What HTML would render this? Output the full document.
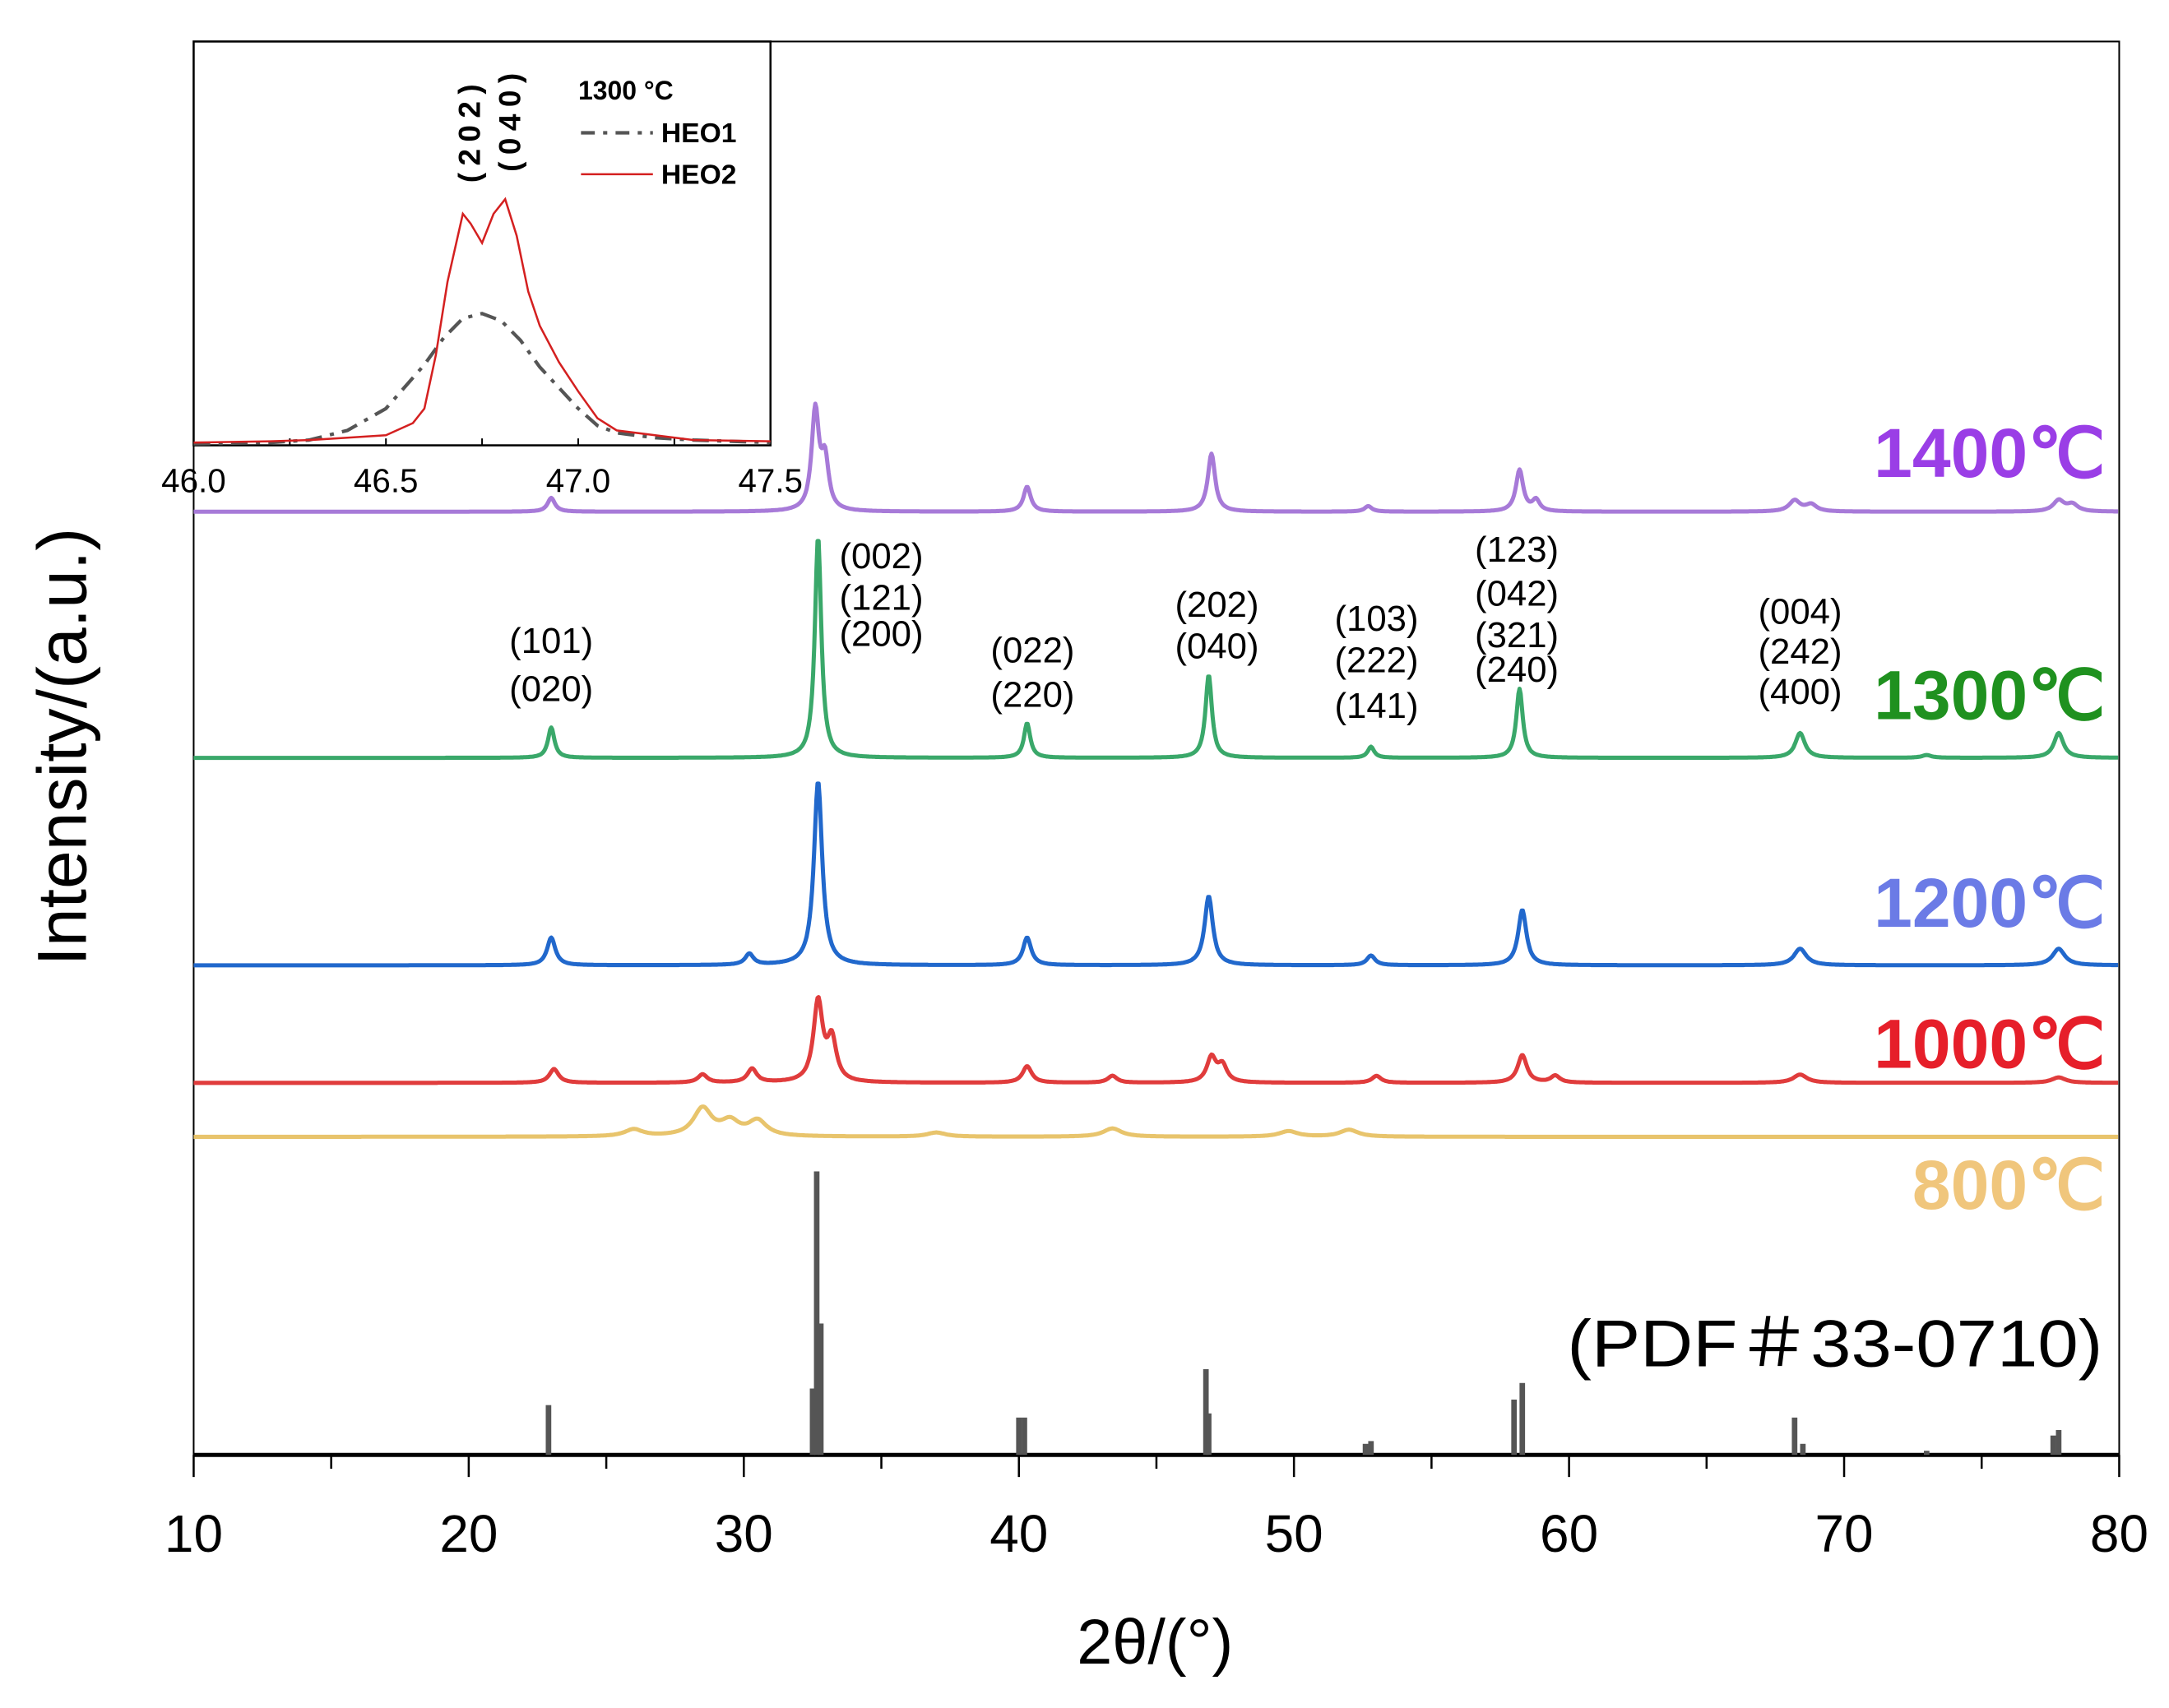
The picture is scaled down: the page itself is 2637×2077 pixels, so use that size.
<!DOCTYPE html>
<html><head><meta charset="utf-8"><style>
html,body{margin:0;padding:0;background:#fff}
svg{display:block}
text{font-family:"Liberation Sans",sans-serif}
</style></head><body>
<svg id="chart" width="2637" height="2077" viewBox="0 0 1568 1235" xmlns="http://www.w3.org/2000/svg">
<g id="main"></g>
</svg>
<script>
const NS="http://www.w3.org/2000/svg";
const svg=document.getElementById('main');
// ---- data ----
const xTicks=[10,20,30,40,50,60,70,80];
const seriesNames=["1400℃","1300℃","1200℃","1000℃","800℃"];
const seriesColors=["#a77ad8","#3aa86a","#2168cc","#e03c3c","#e8c46c"];
const labelColors=["#9a3ee6","#1f911f","#6b7be6","#e61f2a","#f0c67c"];
const baselines=[370,548,698,783,822];
const labelY=[327,502,652,754,856];
const peaks1400=[[23.0,10],[32.6,72],[32.95,35],[40.3,18],[47.0,42],[52.7,4],[58.2,30],[58.8,8],[68.2,8],[68.8,5],[77.8,8],[78.3,5]];
const peaks1300=[[23.0,22],[32.7,160],[40.3,25],[46.9,60],[52.8,8],[58.2,50],[73.0,2],[68.4,18],[77.8,18]];
const peaks1200=[[23.0,20],[30.2,8],[32.7,133],[40.3,20],[46.9,50],[52.8,7],[58.3,40],[68.4,12],[77.8,12]];
const peaks1000=[[23.1,10],[28.5,6],[30.3,10],[32.7,58],[33.2,30],[40.3,12],[43.4,5],[47.0,18],[47.4,12],[53.0,5],[58.3,20],[59.5,5],[68.4,6],[77.8,4]];
const peaks800=[[26.0,5],[28.5,20],[29.5,10],[30.5,11],[37.0,3],[43.4,6],[49.8,4],[52.0,5]];
const allPeaks=[peaks1400,peaks1300,peaks1200,peaks1000,peaks800];
const widths=[0.16,0.14,0.18,0.2,0.4];
const pdfPos=[22.9,32.5,32.65,32.8,40.0,40.2,46.8,46.9,52.6,52.8,58.0,58.3,68.2,68.5,73.0,77.6,77.8];
const pdfInt=[36,48,205,95,27,27,62,30,8,10,40,52,27,8,3,14,18];
const millerX=[23.0,35.0,40.5,47.2,53.0,58.1,68.4];
const millerLabels=[["(101)","(020)"],["(002)","(121)","(200)"],["(022)","(220)"],["(202)","(040)"],["(103)","(222)","(141)"],["(123)","(042)","(321)","(240)"],["(004)","(242)","(400)"]];
const millerYs=[[463,498],[402,432,458],[470,502],[437,467],[447,477,510],[397,429,459,484],[442,471,500]];
// inset data
const insetTicks=[46.0,46.5,47.0,47.5];
const heo2X=[46.0,46.2,46.3,46.4,46.5,46.57,46.6,46.63,46.66,46.70,46.72,46.75,46.78,46.81,46.84,46.87,46.9,46.95,47.0,47.05,47.1,47.2,47.3,47.5];
const heo2Y=[0,0.005,0.01,0.02,0.03,0.08,0.14,0.36,0.66,0.94,0.9,0.82,0.94,1.0,0.85,0.62,0.48,0.33,0.21,0.1,0.05,0.03,0.01,0.005];
const heo1X=[46.0,46.2,46.3,46.4,46.5,46.6,46.65,46.7,46.75,46.8,46.85,46.9,47.0,47.05,47.1,47.2,47.3,47.5];
const heo1Y=[-0.005,0,0.01,0.05,0.14,0.32,0.43,0.51,0.53,0.5,0.42,0.31,0.14,0.07,0.04,0.02,0.01,0];
// ---- helpers ----
function el(tag,attrs,parent){const e=document.createElementNS(NS,tag);for(const k in attrs)e.setAttribute(k,attrs[k]);(parent||svg).appendChild(e);return e;}
const X0=140,X1=1532,AY=1052;
const xs=v=>X0+(v-10)/70*(X1-X0);
let e=el('rect',{x:X0,y:30,width:X1-X0,height:AY-30,fill:'none',stroke:'#000','stroke-width':1.2});

e=el('line',{x1:X0,y1:AY,x2:X1,y2:AY,stroke:'#000','stroke-width':3});

for(let v=10;v<=80;v+=5){
  const major=v%10===0;
  e=el('line',{x1:xs(v),y1:AY,x2:xs(v),y2:AY+(major?16:10),stroke:'#000','stroke-width':1.5});
  
}
xTicks.forEach(v=>{e=el('text',{x:xs(v),y:1122,'font-size':38,'text-anchor':'middle'});e.textContent=v;
  });
e=el('text',{x:835,y:1203,'font-size':46,'text-anchor':'middle'});e.textContent='2θ/(°)';

e=el('text',{x:0,y:0,'font-size':50,'text-anchor':'middle',transform:'translate(62,540) rotate(-90)'});e.textContent='Intensity/(a.u.)';

pdfPos.forEach((p,i)=>{e=el('rect',{x:xs(p)-2,y:AY-pdfInt[i],width:4,height:pdfInt[i],fill:'#555'});
  });
e=el('text',{x:1133,y:988,'font-size':48,textLength:387,lengthAdjust:'spacingAndGlyphs'});e.textContent='(PDF＃33-0710)';

allPeaks.forEach((pk,si)=>{
  let d='';
  for(let v=10;v<=80;v+=0.04){
    let h=0;pk.forEach(([c,a])=>{const w=widths[si]*(c>60?1.5:1);h+=a/(1+((v-c)/w)**2);});
    d+=(d?'L':'M')+xs(v).toFixed(1)+','+(baselines[si]-h).toFixed(1);
  }
  e=el('path',{d:d,fill:'none',stroke:seriesColors[si],'stroke-width':3,'stroke-linejoin':'round'});
  
  e=el('text',{x:1522,y:labelY[si]+18,'font-size':50,'font-weight':'bold','text-anchor':'end',fill:labelColors[si]});
  e.textContent=seriesNames[si];
  
});
millerX.forEach((m,i)=>{millerLabels[i].forEach((t,j)=>{
  e=el('text',{x:xs(m),y:millerYs[i][j]+9,'font-size':26,'text-anchor':'middle'});e.textContent=t;
  });});
// inset
const IX0=140,IX1=557,IB=320,IS=176;
const ixs=v=>IX0+(v-46)/1.5*(IX1-IX0);
const g=el('g',{});
e=el('rect',{x:IX0,y:30,width:IX1-IX0,height:322-30,fill:'#fff',stroke:'#000','stroke-width':1.5},g);

for(let v=46;v<=47.501;v+=0.25){e=el('line',{x1:ixs(v),y1:322,x2:ixs(v),y2:317,stroke:'#000','stroke-width':1.2},g);
  }
insetTicks.forEach(v=>{e=el('text',{x:ixs(v),y:356,'font-size':24,'text-anchor':'middle'},g);e.textContent=v.toFixed(1);
  });
function pts(X,Y){return X.map((x,i)=>ixs(x).toFixed(1)+','+(IB-Y[i]*IS).toFixed(1)).join(' ');}
e=el('polyline',{points:pts(heo1X,heo1Y),fill:'none',stroke:'#555','stroke-width':2.5,'stroke-dasharray':'12 6 3 6'},g);

e=el('polyline',{points:pts(heo2X,heo2Y),fill:'none',stroke:'#d42020','stroke-width':1.5},g);

e=el('text',{x:418,y:72,'font-size':19,'font-weight':'bold'},g);e.textContent='1300 °C';

e=el('line',{x1:420,y1:96,x2:472,y2:96,stroke:'#555','stroke-width':2.5,'stroke-dasharray':'10 6 3 6'},g);

e=el('text',{x:478,y:103,'font-size':20,'font-weight':'bold'},g);e.textContent='HEO1';

e=el('line',{x1:420,y1:126,x2:472,y2:126,stroke:'#d42020','stroke-width':1.5},g);

e=el('text',{x:478,y:133,'font-size':20,'font-weight':'bold'},g);e.textContent='HEO2';

e=el('text',{x:0,y:0,'font-size':22,'font-weight':'bold','letter-spacing':5,'text-anchor':'middle',transform:'translate(347,94) rotate(-90)'},g);e.textContent='(202)';

e=el('text',{x:0,y:0,'font-size':22,'font-weight':'bold','letter-spacing':5,'text-anchor':'middle',transform:'translate(376,86) rotate(-90)'},g);e.textContent='(040)';

</script>
</body></html>
